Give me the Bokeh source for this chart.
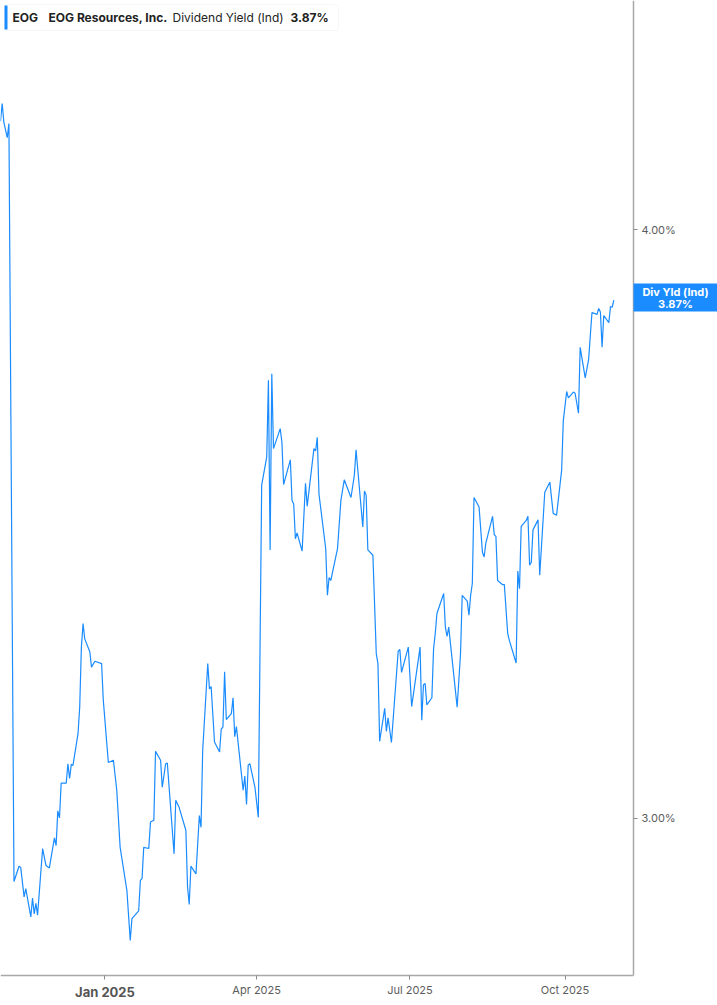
import pandas as pd
from bokeh.plotting import figure
from bokeh.models import (Range1d, FixedTicker, PrintfTickFormatter, CustomJSTickFormatter,
                          Label, BoxAnnotation, ColumnDataSource)
from bokeh.embed import file_html
from bokeh.resources import INLINE

# ---------------- data ----------------
ticker_symbol = "EOG"
company = "EOG Resources, Inc."
metric = "Dividend Yield (Ind)"
metric_short = "Div Yld (Ind)"
last_label = "3.87%"

dates = [
    "2024-10-31", "2024-11-01", "2024-11-02", "2024-11-04", "2024-11-05", "2024-11-08",
    "2024-11-11", "2024-11-12", "2024-11-14", "2024-11-15", "2024-11-18", "2024-11-19",
    "2024-11-20", "2024-11-21", "2024-11-22", "2024-11-25", "2024-11-27", "2024-11-29",
    "2024-12-02", "2024-12-03", "2024-12-04", "2024-12-05", "2024-12-06", "2024-12-09",
    "2024-12-10", "2024-12-11", "2024-12-12", "2024-12-13", "2024-12-16", "2024-12-17",
    "2024-12-18", "2024-12-19", "2024-12-20", "2024-12-23", "2024-12-24", "2024-12-26",
    "2024-12-30", "2024-12-31", "2025-01-03", "2025-01-06", "2025-01-08", "2025-01-10",
    "2025-01-14", "2025-01-16", "2025-01-17", "2025-01-21", "2025-01-22", "2025-01-23",
    "2025-01-24", "2025-01-27", "2025-01-28", "2025-01-30", "2025-01-31", "2025-02-03",
    "2025-02-04", "2025-02-06", "2025-02-07", "2025-02-11", "2025-02-12", "2025-02-14",
    "2025-02-18", "2025-02-19", "2025-02-20", "2025-02-21", "2025-02-24", "2025-02-26",
    "2025-02-27", "2025-02-28", "2025-03-03", "2025-03-04", "2025-03-05", "2025-03-07",
    "2025-03-10", "2025-03-11", "2025-03-12", "2025-03-13", "2025-03-14", "2025-03-17",
    "2025-03-18", "2025-03-19", "2025-03-20", "2025-03-24", "2025-03-25", "2025-03-26",
    "2025-03-27", "2025-03-28", "2025-03-31", "2025-04-02", "2025-04-04", "2025-04-07",
    "2025-04-08", "2025-04-09", "2025-04-10", "2025-04-11", "2025-04-15", "2025-04-16",
    "2025-04-17", "2025-04-21", "2025-04-22", "2025-04-23", "2025-04-24", "2025-04-25",
    "2025-04-28", "2025-04-30", "2025-05-01", "2025-05-05", "2025-05-06", "2025-05-07",
    "2025-05-08", "2025-05-12", "2025-05-13", "2025-05-14", "2025-05-15", "2025-05-19",
    "2025-05-21", "2025-05-23", "2025-05-27", "2025-05-29", "2025-05-30", "2025-06-03",
    "2025-06-04", "2025-06-05", "2025-06-06", "2025-06-09", "2025-06-11", "2025-06-12",
    "2025-06-13", "2025-06-16", "2025-06-17", "2025-06-18", "2025-06-20", "2025-06-24",
    "2025-06-25", "2025-06-26", "2025-06-30", "2025-07-02", "2025-07-07", "2025-07-08",
    "2025-07-09", "2025-07-10", "2025-07-11", "2025-07-14", "2025-07-15", "2025-07-16",
    "2025-07-17", "2025-07-21", "2025-07-22", "2025-07-23", "2025-07-24", "2025-07-29",
    "2025-07-31", "2025-08-01", "2025-08-04", "2025-08-05", "2025-08-06", "2025-08-07",
    "2025-08-08", "2025-08-11", "2025-08-13", "2025-08-14", "2025-08-15", "2025-08-19",
    "2025-08-20", "2025-08-21", "2025-08-22", "2025-08-25", "2025-08-26", "2025-08-28",
    "2025-08-29", "2025-09-02", "2025-09-03", "2025-09-04", "2025-09-05", "2025-09-08",
    "2025-09-09", "2025-09-10", "2025-09-11", "2025-09-12", "2025-09-15", "2025-09-16",
    "2025-09-19", "2025-09-22", "2025-09-24", "2025-09-26", "2025-09-29", "2025-09-30",
    "2025-10-02", "2025-10-03", "2025-10-06", "2025-10-07", "2025-10-09", "2025-10-10",
    "2025-10-13", "2025-10-15", "2025-10-17", "2025-10-20", "2025-10-21", "2025-10-22",
    "2025-10-23", "2025-10-24", "2025-10-27", "2025-10-28", "2025-10-29", "2025-10-30",
]

yield_pct = [
    4.184, 4.214, 4.182, 4.156, 4.180, 2.893,
    2.919, 2.917, 2.867, 2.881, 2.833, 2.865,
    2.838, 2.856, 2.836, 2.949, 2.920, 2.916,
    2.967, 2.954, 3.013, 3.001, 3.060, 3.060,
    3.093, 3.068, 3.092, 3.090, 3.144, 3.189,
    3.291, 3.331, 3.305, 3.283, 3.257, 3.267,
    3.263, 3.201, 3.095, 3.099, 3.048, 2.951,
    2.878, 2.793, 2.830, 2.843, 2.895, 2.898,
    2.951, 2.949, 2.994, 2.997, 3.114, 3.099,
    3.053, 3.093, 3.094, 2.940, 3.031, 3.019,
    2.980, 2.884, 2.854, 2.919, 2.906, 3.005,
    2.985, 3.116, 3.263, 3.220, 3.224, 3.130,
    3.113, 3.152, 3.155, 3.249, 3.168, 3.178,
    3.205, 3.139, 3.156, 3.048, 3.072, 3.024,
    3.091, 3.093, 3.053, 3.002, 3.566, 3.614,
    3.744, 3.456, 3.755, 3.628, 3.662, 3.639,
    3.567, 3.609, 3.540, 3.534, 3.475, 3.485,
    3.454, 3.569, 3.530, 3.628, 3.624, 3.647,
    3.551, 3.458, 3.379, 3.409, 3.404, 3.458,
    3.540, 3.575, 3.545, 3.583, 3.626, 3.495,
    3.556, 3.549, 3.456, 3.447, 3.280, 3.263,
    3.131, 3.187, 3.148, 3.171, 3.129, 3.284,
    3.287, 3.248, 3.291, 3.190, 3.291, 3.167,
    3.227, 3.229, 3.193, 3.205, 3.288, 3.314,
    3.348, 3.382, 3.325, 3.309, 3.325, 3.189,
    3.280, 3.379, 3.369, 3.345, 3.379, 3.399,
    3.545, 3.529, 3.452, 3.444, 3.467, 3.513,
    3.482, 3.479, 3.404, 3.397, 3.397, 3.314,
    3.302, 3.264, 3.420, 3.390, 3.496, 3.506,
    3.513, 3.430, 3.435, 3.490, 3.507, 3.413,
    3.554, 3.571, 3.518, 3.515, 3.591, 3.676,
    3.725, 3.714, 3.724, 3.722, 3.688, 3.800,
    3.748, 3.779, 3.859, 3.856, 3.866, 3.860,
    3.800, 3.854, 3.842, 3.869, 3.868, 3.880,
]

x_tick_dates = ["2025-01-01", "2025-04-01", "2025-07-01", "2025-10-01"]
x_tick_labels = ["Jan 2025", "Apr 2025", "Jul 2025", "Oct 2025"]
bold_tick = "Jan 2025"
y_ticks = [3.0, 4.0]

# ---------------- layout / styling ----------------
W, H = 717, 1005
BLUE = "#1a8cff"
AXIS_GRAY = "#a8a8a8"
LABEL_GRAY = "#5c5c5c"
FONT = "Inter"

X_START = "2024-10-31 00:00"
X_END = "2025-12-30 12:00"
Y_AXIS_AT = "2025-11-10 16:00"     # where the value axis sits
Y_BOTTOM, Y_TOP = 2.6825, 4.3888
X_AXIS_AT = 2.7334                  # where the time axis sits


def ms(d):
    return pd.Timestamp(d).timestamp() * 1000.0


src = ColumnDataSource(dict(date=pd.to_datetime(dates), y=yield_pct))

p = figure(width=W, height=H, x_axis_type="datetime", y_axis_location="right",
           x_range=Range1d(ms(X_START), ms(X_END)),
           y_range=Range1d(Y_BOTTOM, Y_TOP),
           output_backend="svg", toolbar_location=None,
           min_border_left=0, min_border_top=0, min_border_right=0, min_border_bottom=0)

p.xgrid.visible = False
p.ygrid.visible = False
p.outline_line_color = None
p.background_fill_color = "white"
p.border_fill_color = "white"

tick_ms = [ms(d) for d in x_tick_dates]
xa = p.xaxis[0]
xa.ticker = FixedTicker(ticks=tick_ms, minor_ticks=[])
xa.formatter = CustomJSTickFormatter(
    args=dict(tick_vals=tick_ms,
              tick_texts=["" if l == bold_tick else l for l in x_tick_labels]),
    code="const i = tick_vals.indexOf(tick); return i < 0 ? '' : tick_texts[i];")
xa.major_label_standoff = 3
xa.fixed_location = X_AXIS_AT
xa.bounds = (ms(X_START), ms(Y_AXIS_AT))

ya = p.yaxis[0]
ya.ticker = FixedTicker(ticks=y_ticks, minor_ticks=[])
ya.formatter = PrintfTickFormatter(format="%.2f%%")
ya.major_label_standoff = 4
ya.fixed_location = ms(Y_AXIS_AT)
ya.bounds = (X_AXIS_AT, Y_TOP)

for ax in (xa, ya):
    ax.axis_line_color = AXIS_GRAY
    ax.axis_line_width = 1.5
    ax.major_tick_line_color = "#8a8a8a"
    ax.major_tick_out = 4
    ax.major_tick_in = 0
    ax.minor_tick_out = 0
    ax.minor_tick_in = 0
    ax.major_label_text_font = FONT
    ax.major_label_text_font_size = "11px"
    ax.major_label_text_color = LABEL_GRAY

p.line("date", "y", source=src, line_color=BLUE, line_width=1.2)

# bold "Jan 2025" tick label
jan_idx = x_tick_labels.index(bold_tick)
p.add_layout(Label(x=tick_ms[jan_idx], y=14, x_units="data", y_units="screen",
                   text=bold_tick, text_align="center", text_baseline="middle",
                   text_font=FONT, text_font_style="bold", text_font_size="13px",
                   text_color="#555555"))

# legend box (top-left)
p.add_layout(BoxAnnotation(left=4, right=338, top=1001, bottom=975,
                           left_units="screen", right_units="screen",
                           top_units="screen", bottom_units="screen",
                           fill_color="white", fill_alpha=1.0,
                           line_color="#e2e2e2", line_width=1, border_radius=3,
                           level="overlay"))
p.add_layout(BoxAnnotation(left=4, right=7, top=1000, bottom=976,
                           left_units="screen", right_units="screen",
                           top_units="screen", bottom_units="screen",
                           fill_color=BLUE, fill_alpha=1.0, line_color=None,
                           level="overlay"))
legend_parts = [(ticker_symbol, 12, "bold"), (company, 48, "bold"),
                (metric, 172, "normal"), (last_label, 290, "bold")]
for txt, xpos, style in legend_parts:
    p.add_layout(Label(x=xpos, y=988, x_units="screen", y_units="screen", text=txt,
                       text_font=FONT, text_font_style=style, text_font_size="12px",
                       text_color="#222222", text_baseline="middle", level="overlay"))

# last-value tag on the value axis
p.add_layout(BoxAnnotation(left=633, right=717, top=722, bottom=694,
                           left_units="screen", right_units="screen",
                           top_units="screen", bottom_units="screen",
                           fill_color=BLUE, fill_alpha=1.0, line_color=None,
                           level="overlay"))
for txt, ypos in [(metric_short, 714), (last_label, 702)]:
    p.add_layout(Label(x=675, y=ypos, x_units="screen", y_units="screen", text=txt,
                       text_align="center", text_baseline="middle",
                       text_font=FONT, text_font_style="bold", text_font_size="11px",
                       text_color="white", level="overlay"))

open("out.html", "w").write(file_html(p, INLINE))
